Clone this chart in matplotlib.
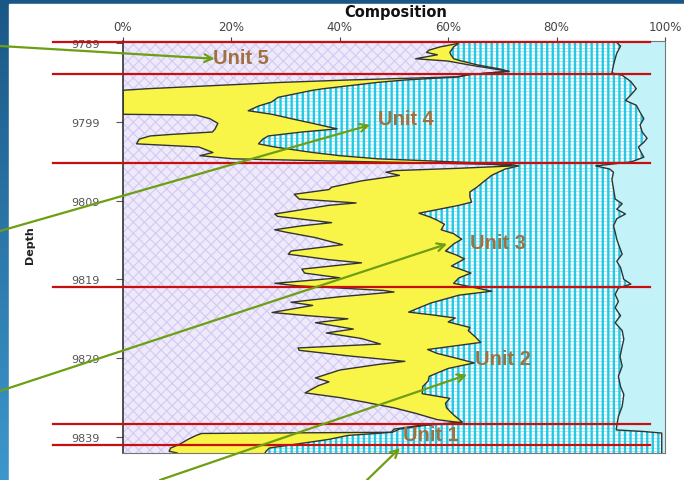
import matplotlib.pyplot as plt
import numpy as np
from matplotlib.colors import LinearSegmentedColormap
from matplotlib.patches import Rectangle

# cumulative composition boundaries (percent) against depth (ft)
# b1: lavender / yellow, b2: yellow / cyan grid, b3: cyan grid / light cyan
depth_b1 = [9788.75, 9789.1, 9789.5, 9789.9, 9790.2, 9790.5, 9791.0, 9791.3, 9791.8, 9792.3,
            9792.6, 9793.0, 9793.3, 9793.7, 9794.0, 9794.4, 9794.8, 9795.0, 9798.05, 9798.15,
            9798.6, 9799.2, 9799.9, 9800.3, 9800.6, 9800.8, 9801.2, 9801.8, 9802.2, 9802.9,
            9803.3, 9803.7, 9804.0, 9804.4, 9804.6, 9804.9, 9805.2, 9805.4, 9805.8, 9806.5,
            9807.3, 9807.6, 9808.2, 9808.8, 9809.3, 9809.6, 9810.7, 9811.0, 9811.8, 9812.2,
            9812.7, 9813.0, 9813.7, 9814.6, 9815.4, 9815.8, 9816.5, 9816.9, 9817.7, 9818.2,
            9818.8, 9819.5, 9819.8, 9820.4, 9820.6, 9821.2, 9821.9, 9822.3, 9823.2, 9823.6,
            9824.0, 9824.5, 9825.3, 9825.8, 9826.5, 9827.2, 9827.7, 9828.0, 9828.7, 9829.4,
            9829.8, 9830.5, 9831.5, 9832.0, 9832.5, 9833.4, 9834.0, 9834.6, 9835.3, 9836.0,
            9836.8, 9837.2, 9837.5, 9838.0, 9838.4, 9838.55, 9838.8, 9839.3, 9839.9, 9840.4,
            9840.8, 9841.03]
pct_b1 = [62.0, 61.5, 58.5, 56.5, 56.0, 58.0, 54.0, 60.0, 64.0, 68.5,
          71.2, 64.0, 61.5, 41.5, 29.3, 17.0, 4.6, 0.0, 0.0, 13.5,
          16.0, 17.5, 17.0, 16.5, 9.0, 5.0, 3.0, 2.5, 14.0, 16.6,
          14.2, 20.3, 40.0, 68.0, 72.0, 62.0, 50.0, 48.5, 51.0, 44.0,
          38.5, 38.0, 31.6, 32.5, 43.0, 38.0, 28.0, 28.5, 38.5, 33.0,
          28.0, 30.0, 35.5, 40.5, 31.0, 30.5, 38.0, 44.0, 33.0, 33.5,
          40.0, 28.0, 32.0, 48.0, 50.0, 40.0, 31.0, 35.0, 27.5, 34.0,
          41.5, 35.5, 42.5, 37.5, 44.0, 47.5, 32.3, 32.5, 41.5, 52.0,
          47.0, 40.0, 35.5, 38.0, 36.0, 33.6, 40.0, 44.8, 50.0, 54.0,
          58.0, 62.5, 55.0, 50.0, 49.5, 14.5, 13.5, 12.0, 10.5, 8.8,
          8.5, 10.0]

depth_b2 = [9788.75, 9789.1, 9789.5, 9790.2, 9790.5, 9791.0, 9791.3, 9791.8, 9792.3, 9792.6,
            9793.0, 9793.3, 9793.7, 9794.0, 9794.4, 9794.8, 9795.0, 9795.9, 9796.5, 9797.0,
            9797.6, 9798.05, 9798.6, 9799.2, 9799.9, 9800.3, 9800.8, 9801.2, 9801.8, 9802.2,
            9802.9, 9803.3, 9803.7, 9804.0, 9804.4, 9804.6, 9805.0, 9805.8, 9806.9, 9807.3,
            9807.9, 9808.5, 9809.2, 9809.6, 9810.6, 9811.1, 9811.5, 9812.0, 9812.7, 9813.2,
            9813.9, 9814.5, 9815.4, 9815.9, 9816.4, 9817.3, 9818.2, 9818.8, 9819.5, 9820.2,
            9820.5, 9821.0, 9822.0, 9822.5, 9823.15, 9823.5, 9823.9, 9824.4, 9825.1, 9825.5,
            9826.3, 9827.0, 9827.9, 9828.4, 9829.0, 9829.6, 9830.3, 9831.3, 9831.9, 9832.6,
            9833.5, 9834.1, 9834.7, 9835.3, 9836.2, 9837.1, 9837.5, 9838.0, 9838.4, 9838.8,
            9839.3, 9839.9, 9840.4, 9840.8, 9841.03]
pct_b2 = [62.0, 61.8, 61.0, 60.3, 60.5, 61.0, 62.5, 65.5, 69.5, 71.2,
          64.0, 62.0, 52.0, 47.0, 42.0, 37.0, 35.0, 28.6, 27.4, 25.0,
          23.1, 27.5, 31.0, 35.0, 39.5, 33.0, 26.8, 25.8, 25.0, 28.0,
          35.0, 40.0, 47.0, 58.0, 71.2, 73.0, 70.5, 68.0, 66.0, 65.3,
          64.0, 64.0, 64.3, 62.0, 54.6, 56.7, 58.0, 59.3, 58.7, 61.0,
          62.5, 61.0, 59.5, 61.5, 63.0, 60.6, 64.2, 62.0, 61.0, 66.0,
          68.0, 62.0, 56.8, 55.0, 52.7, 57.0, 61.3, 60.0, 64.0, 63.7,
          65.0, 66.0, 56.2, 58.0, 61.5, 64.8, 60.0, 56.5, 56.3, 55.3,
          55.2, 60.3, 59.5, 59.7, 61.0, 62.6, 56.0, 51.0, 49.7, 41.5,
          38.0, 32.0, 27.0, 26.4, 26.2]

depth_b3 = [9788.75, 9789.4, 9790.3, 9791.0, 9791.8, 9792.8, 9793.1, 9793.9, 9794.8, 9795.6,
            9796.3, 9796.9, 9797.8, 9798.6, 9799.4, 9800.3, 9801.1, 9801.6, 9802.2, 9802.9,
            9803.5, 9804.1, 9804.6, 9805.0, 9805.4, 9806.3, 9807.5, 9808.8, 9809.4, 9810.1,
            9810.7, 9811.3, 9812.2, 9813.0, 9813.9, 9814.5, 9815.8, 9816.7, 9817.5, 9819.0,
            9819.6, 9820.1, 9820.9, 9821.8, 9822.6, 9823.6, 9824.5, 9825.5, 9826.6, 9827.5,
            9828.8, 9830.0, 9831.3, 9832.6, 9833.6, 9835.1, 9836.4, 9837.6, 9838.1, 9838.3,
            9838.5, 9841.03]
pct_b3 = [90.8, 91.8, 91.1, 90.8, 90.5, 90.2, 92.1, 93.7, 94.7, 93.7,
          92.7, 94.7, 95.4, 96.1, 95.4, 95.8, 96.7, 96.1, 95.1, 95.6,
          96.1, 93.7, 87.2, 89.8, 90.5, 90.2, 90.5, 90.8, 92.1, 91.1,
          92.7, 91.1, 90.5, 90.8, 91.1, 91.4, 92.1, 91.1, 91.8, 92.4,
          93.7, 91.4, 90.8, 91.4, 90.8, 91.8, 90.8, 92.1, 92.4, 92.1,
          91.7, 92.1, 91.4, 91.8, 92.4, 92.1, 91.4, 91.1, 91.0, 96.0,
          99.4, 99.4]

unit_bounds = [9788.88, 9792.98, 9804.2, 9820.0, 9837.4, 9840.0]
unit_names = ["Unit 5", "Unit 4", "Unit 3", "Unit 2", "Unit 1"]
label_pct = [16.6, 47.0, 64.0, 65.0, 51.7]
label_depth = [9790.8, 9798.6, 9814.3, 9829.1, 9838.7]
arrow_pct = [16.9, 45.6, 59.8, 63.5, 51.1]
arrow_depth = [9791.0, 9799.4, 9814.5, 9831.1, 9840.4]
# arrow tails in slide pixels (x from left, y from top)
arrow_tail_px = [(0, 47), (0, 232), (0, 392), (160, 481), (367, 481)]

depth_ticks = [9789, 9799, 9809, 9819, 9829, 9839]
pct_ticks = [0, 20, 40, 60, 80, 100]

W, H = 684, 481
fig = plt.figure(figsize=(W / 100, H / 100), dpi=100)

# slide background
bg = fig.add_axes([0, 0, 1, 1])
bg.axis('off')
slide = LinearSegmentedColormap.from_list('slide', ['#1a5786', '#3d97cb'])
bg.imshow(np.linspace(0, 1, 200)[:, None], aspect='auto', cmap=slide,
          extent=[0, 1, 0, 1], origin='upper')
bg.add_patch(Rectangle((9 / W, 0), 1, 1 - 5 / H, color='white'))
bg.set_xlim(0, 1)
bg.set_ylim(0, 1)

ax = fig.add_axes([123 / W, 27 / H, 542 / W, 412 / H])
ax.set_facecolor('#c3f3f8')

# layers, painted from right to left
plt.rcParams['hatch.linewidth'] = 0.6
ax.fill_betweenx(depth_b3, 0, pct_b3, facecolor='white', edgecolor='#8fe3f0',
                 hatch='-----', linewidth=0)
plt.rcParams['hatch.linewidth'] = 1.7
ax.fill_betweenx(depth_b3, 0, pct_b3, facecolor='none', edgecolor='#22c8e4',
                 hatch='|||', linewidth=0)
ax.fill_betweenx(depth_b2, 0, pct_b2, facecolor='#f8f548', linewidth=0)
plt.rcParams['hatch.linewidth'] = 0.8
ax.fill_betweenx(depth_b1, 0, pct_b1, facecolor='#eee9fb', edgecolor='#d3caf2',
                 hatch='xxx', linewidth=0)
for d, p in [(depth_b3, pct_b3), (depth_b2, pct_b2), (depth_b1, pct_b1)]:
    ax.plot(p, d, color='#333333', lw=1.0)

ax.set_xlim(0, 100)
ax.set_ylim(9841.03, 9788.75)

ax.xaxis.tick_top()
ax.set_xticks(pct_ticks)
ax.set_xticklabels([f"{t}%" for t in pct_ticks])
ax.set_yticks(depth_ticks)
ax.tick_params(axis='x', labelsize=8.5, colors='#444444', length=3, pad=3)
ax.tick_params(axis='y', labelsize=8, colors='#555555', length=5, pad=12)
for s in ax.spines.values():
    s.set_color('#777777')
    s.set_linewidth(0.8)
ax.spines['left'].set_color('#333333')
ax.spines['left'].set_linewidth(1.2)

ax.set_ylabel('Depth', fontsize=8, fontweight='bold', color='#222222')
ax.yaxis.set_label_coords(-0.162, 0.507)
fig.text(396 / W, 1 - 13 / H, 'Composition', ha='center', va='center',
         fontsize=10.5, fontweight='bold', color='#111111')

# unit boundaries
for d in unit_bounds:
    ax.plot([-13.0, 97.2], [d, d], color='#c80f0f', lw=1.6, clip_on=False, zorder=5)

# unit labels and pointer arrows
for name, xp, yd in zip(unit_names, label_pct, label_depth):
    ax.text(xp, yd, name, ha='left', va='center', fontsize=14.5, fontweight='bold',
            color='#a0703e', family='Liberation Sans', zorder=6)
for (tx, ty), xp, yd in zip(arrow_tail_px, arrow_pct, arrow_depth):
    ax.annotate('', xy=(xp, yd), xytext=(tx / W, 1 - ty / H), textcoords='figure fraction',
                arrowprops=dict(arrowstyle='->', color='#6e9e12', lw=1.6,
                                shrinkA=0, shrinkB=0, mutation_scale=14),
                annotation_clip=False, zorder=7)

fig.savefig('out.png', dpi=100)
